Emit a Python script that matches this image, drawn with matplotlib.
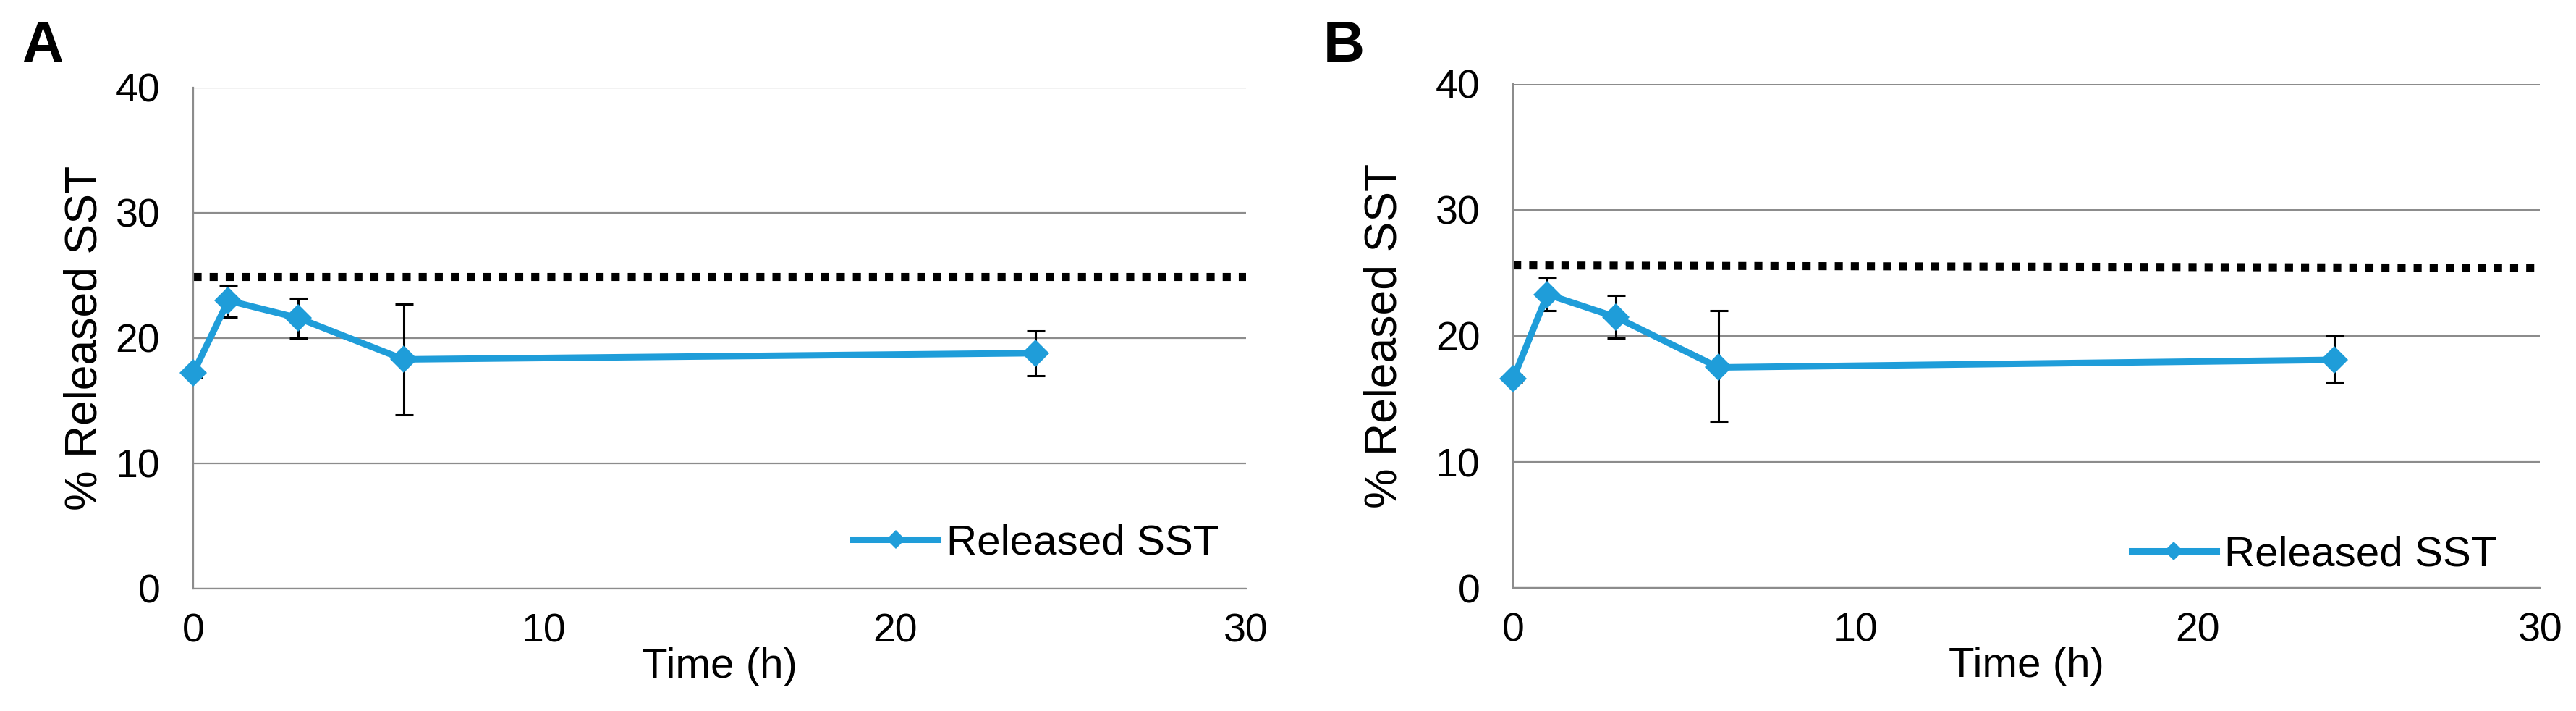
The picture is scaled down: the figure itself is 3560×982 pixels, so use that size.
import matplotlib
matplotlib.use("Agg")
import matplotlib.pyplot as plt

plt.rcParams["font.family"] = ["Liberation Sans", "DejaVu Sans"]

# data
time_h = [0, 1, 3, 6, 24]

rel_a = [17.2, 23.0, 21.6, 18.3, 18.8]
err_a_lo = [0.3, 1.3, 1.6, 4.4, 1.8]
err_a_hi = [0.3, 1.2, 1.6, 4.4, 1.8]
ref_a_x = [0, 30]
ref_a_y = [24.9, 24.9]

rel_b = [16.6, 23.3, 21.5, 17.5, 18.1]
err_b_lo = [0.3, 1.3, 1.7, 4.3, 1.8]
err_b_hi = [0.3, 1.3, 1.7, 4.5, 1.9]
ref_b_x = [0, 30]
ref_b_y = [25.6, 25.4]

x_ticks = [0, 10, 20, 30]
y_ticks = [0, 10, 20, 30, 40]

BLUE = "#1f9dd9"
GRID = "#8c8c8c"
FS_TICK = 40
FS_LAB = 42

fig = plt.figure(figsize=(35.6, 9.82), dpi=100)

# axes rectangles in figure fraction
ax_a = fig.add_axes([0.0750, 0.1721, 0.4087, 0.7047])
ax_b = fig.add_axes([0.5874, 0.1731, 0.3986, 0.7088])


def draw_panel(ax, y, lo, hi, ref_x, ref_y, ylab_x, leg_anchor):
    ax.plot(ref_x, ref_y, color="black", linewidth=8,
            linestyle=(0, (1, 1)), dash_capstyle="butt", zorder=2)
    ax.errorbar(time_h, y, yerr=[lo, hi], fmt="none", ecolor="black",
                elinewidth=2.2, capsize=9, capthick=2.2, zorder=3)
    ax.plot(time_h, y, color=BLUE, linewidth=6.5, marker="D",
            markersize=19, markeredgewidth=0, label="Released SST",
            zorder=4, clip_on=False)

    ax.set_xlim(0, 30)
    ax.set_ylim(0, 40)
    ax.set_xticks(x_ticks)
    ax.set_yticks(y_ticks)
    ax.tick_params(axis="both", length=0, labelsize=FS_TICK)
    ax.tick_params(axis="y", pad=33)
    ax.tick_params(axis="x", pad=24)

    ax.grid(axis="y", color=GRID, linewidth=1.6)
    ax.set_axisbelow(True)
    for side in ["top", "right"]:
        ax.spines[side].set_visible(False)
    for side in ["left", "bottom"]:
        ax.spines[side].set_color(GRID)
        ax.spines[side].set_linewidth(1.6)

    ax.set_xlabel("Time (h)", fontsize=FS_LAB, labelpad=-3)
    ax.set_ylabel("% Released SST", fontsize=45)
    ax.yaxis.set_label_coords(ylab_x, 0.5)

    ax.legend(loc="center left", bbox_to_anchor=leg_anchor, frameon=False,
              fontsize=FS_LAB, handlelength=2.0, handletextpad=0.2,
              borderpad=0, borderaxespad=0, markerscale=0.7)


draw_panel(ax_a, rel_a, err_a_lo, err_a_hi, ref_a_x, ref_a_y, -0.083, (0.627, 0.091))
draw_panel(ax_b, rel_b, err_b_lo, err_b_hi, ref_b_x, ref_b_y, -0.105, (0.6025, 0.065))

fig.text(30 / 3560, 1 - 85 / 982, "A", fontsize=57, fontweight="bold",
         ha="left", va="baseline")
fig.text(1829 / 3560, 1 - 85 / 982, "B", fontsize=57, fontweight="bold",
         ha="left", va="baseline")

fig.savefig("out.png", dpi=100)
